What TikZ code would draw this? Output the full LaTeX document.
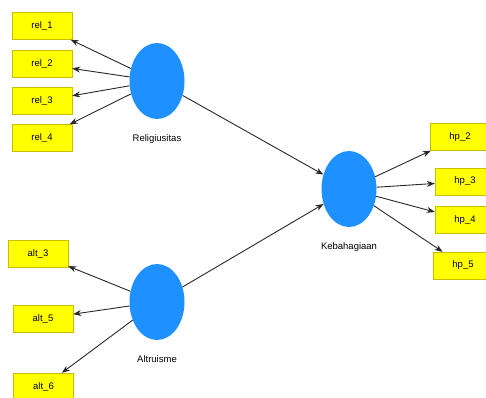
\documentclass[tikz,border=0pt]{standalone}
\usepackage{fontspec}
\setmainfont{Liberation Sans}
\usetikzlibrary{arrows.meta,shapes.geometric}
\definecolor{latentblue}{RGB}{30,144,255}
\definecolor{boxyellow}{RGB}{255,255,0}
\definecolor{boxedge}{RGB}{200,190,0}
\definecolor{pathgray}{RGB}{40,40,40}
\begin{document}
\begin{tikzpicture}[x=1pt,y=-1pt,
    indicator/.style={draw=boxedge,fill=boxyellow,rectangle,minimum width=60pt,minimum height=27pt,inner sep=0pt,font=\fontsize{9.5}{11}\selectfont},
    latent/.style={fill=latentblue,ellipse,minimum width=55pt,minimum height=76pt,inner sep=0pt},
    lvname/.style={font=\fontsize{9.5}{11}\selectfont,label distance=12pt},
    link/.style={draw=pathgray,line width=0.9pt,-{Stealth[length=8pt,width=6pt]}}]
    \clip (0,0) rectangle (486,397);
    % latent variables
    \node[latent,label={[lvname]below:Religiusitas}] (religi) at (157,81) {};
    \node[latent,label={[lvname]below:Altruisme}] (altru) at (157,302) {};
    \node[latent,label={[lvname]below:Kebahagiaan}] (bahagia) at (349,189) {};
    % indicators
    \node[indicator] (rel1) at (42,26) {rel\_1};
    \node[indicator] (rel2) at (42,64) {rel\_2};
    \node[indicator] (rel3) at (42,101) {rel\_3};
    \node[indicator] (rel4) at (42,138) {rel\_4};
    \node[indicator] (alt3) at (38,254) {alt\_3};
    \node[indicator] (alt5) at (43,318.5) {alt\_5};
    \node[indicator] (alt6) at (43.5,386.5) {alt\_6};
    \node[indicator] (hp2) at (460,137) {hp\_2};
    \node[indicator] (hp3) at (465,181.5) {hp\_3};
    \node[indicator] (hp4) at (465,220) {hp\_4};
    \node[indicator] (hp5) at (463,265.5) {hp\_5};

    \foreach \ind in {rel1,rel2,rel3,rel4}
        \draw[link] (religi) -- (\ind);
    \foreach \ind in {alt3,alt5,alt6}
        \draw[link] (altru) -- (\ind);
    \foreach \ind in {hp2,hp3,hp4,hp5}
        \draw[link] (bahagia) -- (\ind);
    \draw[link] (religi) -- (bahagia);
    \draw[link] (altru) -- (bahagia);
\end{tikzpicture}
\end{document}
